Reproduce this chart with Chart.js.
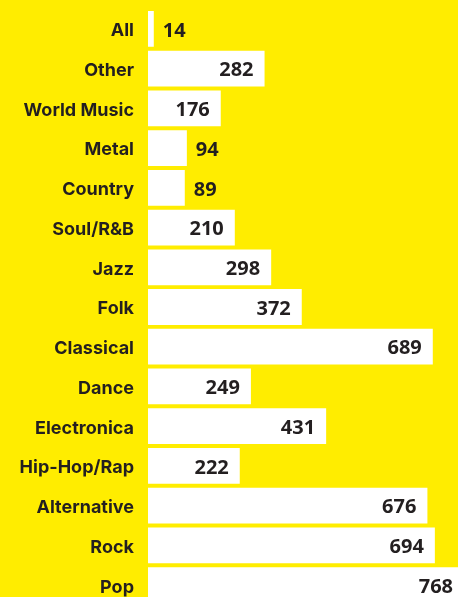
<!DOCTYPE html>
<html>
<head>
<meta charset="utf-8">
<script src="https://cdn.jsdelivr.net/npm/chart.js@4.4.1/dist/chart.umd.min.js"></script>
<style>
  html, body { margin: 0; padding: 0; background: #FFED00; overflow: hidden; }
  .chart-wrapper { position: relative; width: 458px; height: 605px; }
</style>
</head>
<body>
<div class="chart-wrapper">
  <canvas id="chart"></canvas>
</div>
<script>
const genres = ['All', 'Other', 'World Music', 'Metal', 'Country', 'Soul/R&B', 'Jazz', 'Folk',
  'Classical', 'Dance', 'Electronica', 'Hip-Hop/Rap', 'Alternative', 'Rock', 'Pop'];
const counts = [14, 282, 176, 94, 89, 210, 298, 372, 689, 249, 431, 222, 676, 694, 768];
const axisMax = 750;

const textColor = '#231F20';

// Draw each count at the end of its bar (outside when the bar is too short)
const valueLabels = {
    id: 'valueLabels',
    afterDatasetsDraw(chart) {
        const ctx = chart.ctx;
        const meta = chart.getDatasetMeta(0);
        const area = chart.chartArea;
        ctx.save();
        ctx.font = 'bold 20px "Open Sans", sans-serif';
        ctx.fillStyle = textColor;
        ctx.textBaseline = 'middle';
        meta.data.forEach((bar, i) => {
            const width = bar.x - bar.base;
            if (width < 50) {
                ctx.textAlign = 'left';
                ctx.fillText(counts[i], bar.x + 9, bar.y + 2);
            } else {
                ctx.textAlign = 'right';
                ctx.fillText(counts[i], Math.min(bar.x - 11, area.right - 5), bar.y + 2);
            }
        });
        ctx.restore();
    }
};

new Chart(document.getElementById('chart'), {
    type: 'bar',
    data: {
        labels: genres,
        datasets: [{
            data: counts,
            backgroundColor: '#FFFFFF',
            borderWidth: 0,
            barPercentage: 0.9,
            categoryPercentage: 1.0
        }]
    },
    options: {
        indexAxis: 'y',
        responsive: true,
        maintainAspectRatio: false,
        animation: false,
        layout: { padding: { top: 9, right: 0, bottom: 0, left: 0 } },
        plugins: {
            legend: { display: false },
            tooltip: { enabled: false }
        },
        scales: {
            x: {
                display: false,
                min: 0,
                max: axisMax
            },
            y: {
                grid: { display: false, drawTicks: false },
                border: { display: false },
                afterFit: (scale) => {
                    scale.width = 148;
                    scale.paddingTop = 0;
                    scale.paddingBottom = 0;
                },
                ticks: {
                    padding: 14,
                    labelOffset: 2,
                    color: textColor,
                    font: { family: 'Inter, sans-serif', size: 18, weight: 'bold' }
                }
            }
        }
    },
    plugins: [valueLabels]
});
</script>
</body>
</html>
